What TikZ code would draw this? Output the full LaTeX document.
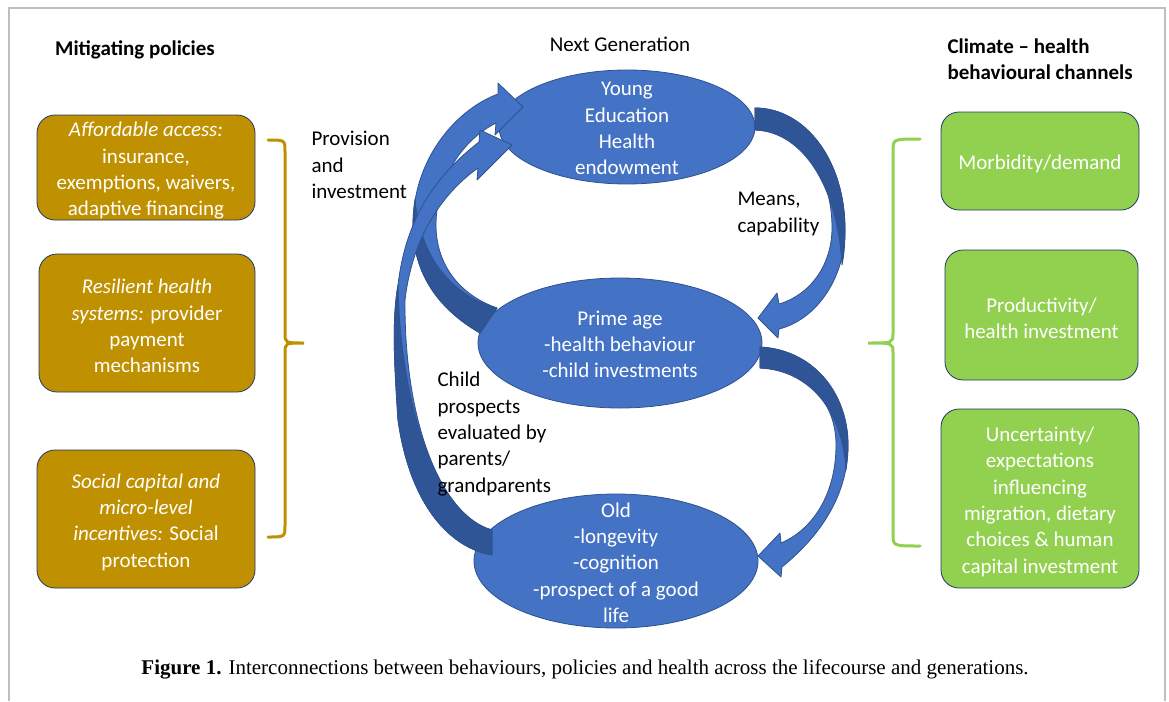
\documentclass[tikz,border=0pt]{standalone}
\usepackage{fontspec}
\setmainfont{Carlito}
\newfontfamily\capfont{Liberation Serif}
\usetikzlibrary{shapes.geometric}
\definecolor{stageblue}{HTML}{4472C4}
\definecolor{stageline}{HTML}{2F528F}
\definecolor{backblue}{HTML}{2F5597}
\definecolor{policygold}{HTML}{BF9000}
\definecolor{channelgreen}{HTML}{92D050}
\definecolor{boxline}{HTML}{203864}
\definecolor{framegray}{HTML}{BFBFBF}
\newcommand{\boxlift}{\rule{0pt}{21pt}}

\begin{document}
\begin{tikzpicture}[x=1pt,y=-1pt,
  every node/.style={font=\fontsize{21}{26.3}\selectfont},
  stage/.style={draw=stageline, fill=stageblue, ellipse, inner sep=0pt, line width=0.8pt},
  stagetxt/.style={text=white, align=center},
  policy/.style={draw=boxline, fill=policygold, rounded corners=18pt, text=white, align=center,
    inner ysep=0pt, line width=0.8pt},
  channel/.style={draw=boxline, fill=channelgreen, rounded corners=18pt, text=white, align=center,
    inner ysep=0pt, line width=0.8pt},
  front/.style={draw=stageline, fill=stageblue, line width=0.8pt, line join=round},
  back/.style={draw=stageline, fill=backblue, line width=0.8pt, line join=round},
  brace/.style={line width=3pt, line cap=round}]
\useasboundingbox (0,0) rectangle (1169,701);

% frame
\draw[framegray, line width=2pt] (8.5,701) -- (8.5,8.5) -- (1164.5,8.5) -- (1164.5,701);

% headings
\node[font=\fontsize{21}{26}\selectfont\bfseries] (mitig) at (135,50) {Mitigating policies};
\node (nextgen) at (620,44) {Next Generation};
\node[font=\fontsize{21}{26.5}\selectfont\bfseries, align=left, anchor=west] (climate) at (944,59) {Climate -- health\\behavioural channels};

% policies
\node[policy, minimum width=218pt, minimum height=105pt] (access) at (146,167.5)
  {\boxlift\itshape Affordable access:\\insurance,\\exemptions, waivers,\\adaptive financing};
\node[policy, minimum width=216pt, minimum height=138pt] (resil) at (147,323)
  {\boxlift\itshape Resilient health\\\textit{systems:} \upshape provider\\payment\\mechanisms};
\node[policy, minimum width=218pt, minimum height=138pt] (social) at (146,519)
  {\boxlift\itshape Social capital and\\\itshape micro-level\\\textit{incentives:} Social\\protection};

% channels
\node[channel, minimum width=198pt, minimum height=98pt] (morb) at (1040,161) {\boxlift Morbidity/demand};
\node[channel, minimum width=193pt, minimum height=130pt] (prod) at (1041.5,315) {\boxlift Productivity/\\health investment};
\node[channel, minimum width=198pt, minimum height=179pt] (uncert) at (1040,498.5)
  {\boxlift Uncertainty/\\expectations\\influencing\\migration, dietary\\choices \& human\\capital investment};

% braces
\draw[brace, policygold] (268,140) .. controls (285,140) .. (285,152) -- (285,333)
  .. controls (285,343) .. (304,343) .. controls (285,343) .. (285,353) -- (285,525)
  .. controls (285,537) .. (268,537);
\draw[brace, channelgreen] (920,139) .. controls (893,139) .. (893,151) -- (893,333)
  .. controls (893,343) .. (868,343) .. controls (893,343) .. (893,353) -- (893,534)
  .. controls (893,546) .. (920,546);

% life stages
\node[stage, minimum width=256pt, minimum height=114pt] (young) at (627,127) {};
\node[stage, minimum width=284pt, minimum height=130pt] (prime) at (620,343) {};
\node[stage, minimum width=284pt, minimum height=134pt] (old) at (616,561) {};
\node[stagetxt] (youngtxt) at (627,128.5) {Young\\Education\\Health\\endowment};
\node[stagetxt] (primetxt) at (620,344.5) {Prime age\\-health behaviour\\-child investments};
\node[stagetxt] (oldtxt) at (616,562.5) {Old\\-longevity\\-cognition\\-prospect of a good\\life};

% young -> prime
\path[front] (755,108) .. controls (805,108) and (845,160) .. (845,230)
  .. controls (845,280) and (815,320) .. (779,329) -- (778,338) -- (758,318) -- (777,293)
  -- (779,304) .. controls (810,295) and (832,265) .. (832,228)
  .. controls (832,170) and (800,131) .. (755,130) -- cycle;
\path[back] (755,108) .. controls (805,108) and (845,160) .. (845,230)
  .. controls (845,245) and (844,255) .. (842,265)
  .. controls (838,190) and (805,132) .. (755,130) -- cycle;
% prime -> old
\path[front] (760,347) .. controls (815,350) and (848,395) .. (848,445)
  .. controls (848,500) and (815,540) .. (782,567) -- (781,577) -- (758,556) -- (780,533)
  -- (781,543) .. controls (812,530) and (836,495) .. (836,445)
  .. controls (836,400) and (805,370) .. (760,368) -- cycle;
\path[back] (760,347) .. controls (815,350) and (848,395) .. (848,445)
  .. controls (848,455) and (847,462) .. (846,470)
  .. controls (842,405) and (805,370) .. (760,368) -- cycle;
% prime -> young
\path[front] (480,333) .. controls (440,310) and (413,275) .. (413,225)
  .. controls (413,160) and (455,110) .. (498,94) -- (498,83) -- (523,107) -- (495,135)
  -- (496,123) .. controls (462,140) and (436,180) .. (436,225)
  .. controls (436,265) and (460,295) .. (497,308) -- cycle;
\path[back] (480,333) .. controls (440,310) and (413,275) .. (413,225)
  .. controls (413,215) and (414,207) .. (415,199)
  .. controls (420,260) and (455,297) .. (497,308) -- cycle;
% old -> young
\path[front] (492,555) .. controls (450,548) and (410,505) .. (398,420)
  .. controls (394,360) and (392,320) .. (398,285)
  .. controls (405,225) and (430,180) .. (479,142) -- (480,130) -- (512,145) -- (477,180)
  -- (478,168) .. controls (440,195) and (412,240) .. (405,300)
  .. controls (404,420) and (440,515) .. (492,530) -- cycle;
\path[back] (492,555) .. controls (450,548) and (410,505) .. (398,420)
  .. controls (394,360) and (392,320) .. (398,285)
  .. controls (400,400) and (435,515) .. (492,530) -- cycle;

% connector labels
\node[align=left, anchor=west] (provision) at (308,165) {Provision\\and\\investment};
\node[align=left, anchor=west] (means) at (734,214) {Means,\\capability};
\node[align=left, anchor=west] (prospects) at (434,434) {Child\\prospects\\evaluated by\\parents/\\grandparents};

% caption
\node[font=\capfont\fontsize{21}{25}\selectfont] (caption) at (585,669)
  {\textbf{Figure 1.} Interconnections between behaviours, policies and health across the lifecourse and generations.};
\end{tikzpicture}
\end{document}
